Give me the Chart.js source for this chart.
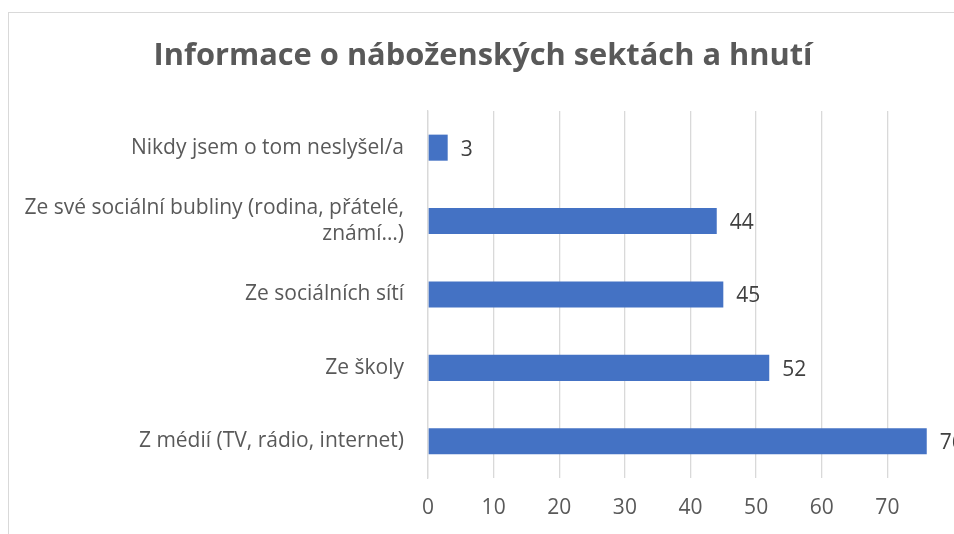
<!DOCTYPE html>
<html><head><meta charset="utf-8">
<script src="https://cdn.jsdelivr.net/npm/chart.js@4.4.1/dist/chart.umd.min.js"></script>
<style>
html,body{margin:0;padding:0;background:#fff;overflow:hidden;}
#wrap{position:relative;width:954px;height:534px;overflow:hidden;}
#frame{position:absolute;left:8px;top:12px;width:960px;height:540px;border-left:1px solid #d9d9d9;border-top:1px solid #d9d9d9;}
canvas{position:absolute;left:0;top:0;}
</style></head><body>
<div id="wrap"><div id="frame"></div><canvas id="c" width="970" height="534"></canvas></div>
<script>
const titleText = 'Informace o náboženských sektách a hnutí';
const categories = [
  'Nikdy jsem o tom neslyšel/a',
  ['Ze své sociální bubliny (rodina, přátelé,', 'známí…)'],
  'Ze sociálních sítí',
  'Ze školy',
  'Z médií (TV, rádio, internet)'
];
const values = [3, 44, 45, 52, 76];
const xTicks = [0, 10, 20, 30, 40, 50, 60, 70];

const FONT = "'Open Sans', sans-serif";
const GRAY = '#595959';

const labelPlugin = {
  id: 'barLabels',
  afterDatasetsDraw(chart) {
    const ctx = chart.ctx;
    const meta = chart.getDatasetMeta(0);
    ctx.save();
    ctx.font = '21px ' + FONT;
    ctx.fillStyle = '#404040';
    ctx.textAlign = 'left';
    ctx.textBaseline = 'middle';
    meta.data.forEach((bar, i) => {
      ctx.fillText(String(values[i]), bar.x + 13, bar.y + 2);
    });
    ctx.restore();
  }
};

new Chart(document.getElementById('c'), {
  type: 'bar',
  data: {
    labels: categories,
    datasets: [{
      data: values,
      backgroundColor: '#4472c4',
      borderWidth: 0,
      categoryPercentage: 1,
      barPercentage: 0.355
    }]
  },
  options: {
    indexAxis: 'y',
    responsive: false,
    animation: false,
    layout: { padding: { left: 0, right: 4, top: 0, bottom: 0 } },
    plugins: {
      legend: { display: false },
      tooltip: { enabled: false },
      title: {
        display: true,
        text: titleText,
        color: GRAY,
        font: { family: FONT, size: 30.8, weight: '700', lineHeight: 1.2 },
        padding: { top: 38, bottom: 36 }
      }
    },
    scales: {
      x: {
        min: 0, max: 80,
        afterBuildTicks(s) { s.ticks = xTicks.concat([80]).map(v => ({ value: v })); },
        afterFit(s) { s.height = 56; },
        grid: {
          color: (c) => (c.tick && c.tick.value === 80) ? 'rgba(0,0,0,0)' : '#d9d9d9',
          lineWidth: 1.3,
          drawTicks: false
        },
        border: { display: false },
        ticks: {
          color: GRAY,
          padding: 17,
          font: { family: FONT, size: 21 },
          callback: (v) => xTicks.includes(v) ? String(v) : ''
        }
      },
      y: {
        afterFit(s) { s.width = 428; },
        grid: { display: false, drawTicks: false },
        border: { display: true, color: '#d9d9d9', width: 1.3 },
        ticks: {
          color: GRAY,
          padding: 24,
          font: { family: FONT, size: 21 }
        }
      }
    }
  },
  plugins: [labelPlugin]
});
</script>
</body></html>
